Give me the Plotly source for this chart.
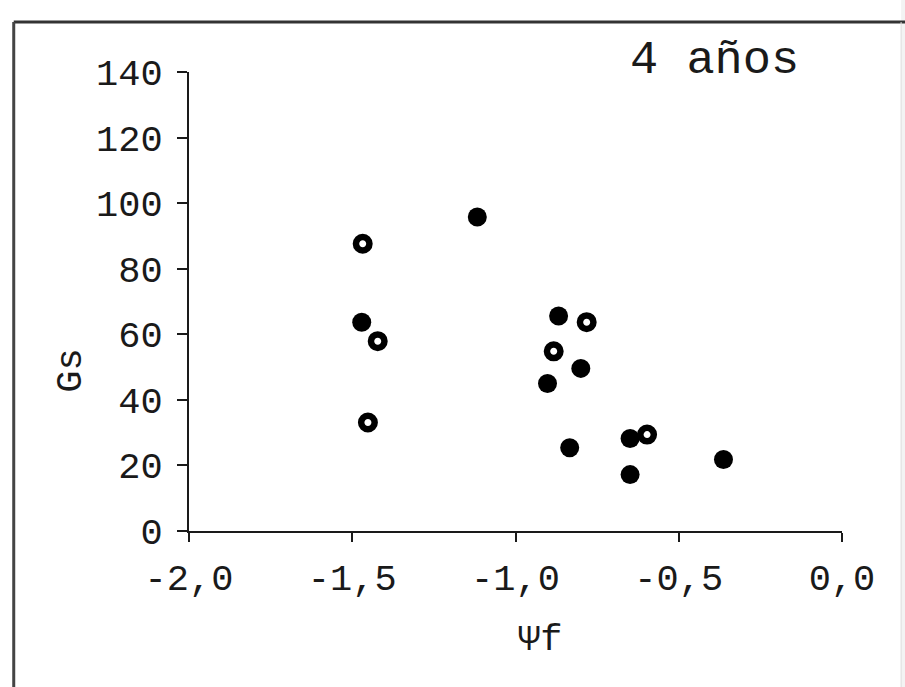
import plotly.graph_objects as go

# Data
filled_x = [-1.117, -1.471, -0.868, -0.902, -0.800, -0.834, -0.649, -0.649, -0.363]
filled_y = [95.8, 63.7, 65.6, 45.0, 49.6, 25.4, 28.2, 17.2, 21.8]
open_x = [-1.468, -1.422, -1.452, -0.782, -0.883, -0.597]
open_y = [87.6, 57.9, 33.1, 63.7, 54.8, 29.4]

x_tickvals = [-2.0, -1.5, -1.0, -0.5, 0.0]
x_ticktext = ["-2,0", "-1,5", "-1,0", "-0,5", "0,0"]
y_tickvals = [0, 20, 40, 60, 80, 100, 120, 140]
y_ticktext = ["0", "20", "40", "60", "80", "100", "120", "140"]

FONT = "Liberation Mono, Courier New, monospace"
INK = "#1a1a1a"

fig = go.Figure()
fig.add_trace(go.Scatter(
    x=filled_x, y=filled_y, mode="markers",
    marker=dict(symbol="circle", size=19, color="black", line=dict(width=0)),
    showlegend=False, cliponaxis=False))
fig.add_trace(go.Scatter(
    x=open_x, y=open_y, mode="markers",
    marker=dict(symbol="circle", size=13.5, color="white", line=dict(width=6.5, color="black")),
    showlegend=False, cliponaxis=False))

fig.update_layout(
    width=905, height=687,
    margin=dict(l=189, r=63, t=72, b=156, pad=0),
    paper_bgcolor="white", plot_bgcolor="white",
    font=dict(family=FONT, color=INK, size=38),
    xaxis=dict(range=[-2, 0], tickvals=x_tickvals, ticktext=x_ticktext,
               showgrid=False, zeroline=False, showline=True, linecolor=INK, linewidth=2,
               ticks="outside", ticklen=9, tickwidth=2, tickcolor=INK,
               tickfont=dict(family=FONT, size=37, color=INK), ticklabelstandoff=4),
    yaxis=dict(range=[0, 140], tickvals=y_tickvals, ticktext=y_ticktext,
               showgrid=False, zeroline=False, showline=True, linecolor=INK, linewidth=2,
               ticks="outside", ticklen=10, tickwidth=2, tickcolor=INK,
               tickfont=dict(family=FONT, size=37, color=INK), ticklabelstandoff=7),
    annotations=[
        dict(text="4 años", xref="paper", yref="paper", x=0.805, y=1.025,
             xanchor="center", yanchor="middle", showarrow=False,
             font=dict(family=FONT, size=47, color=INK)),
        dict(text="Ψf", xref="paper", yref="paper", x=0.538, y=-0.237,
             xanchor="center", yanchor="middle", showarrow=False,
             font=dict(family=FONT, size=37, color=INK)),
        dict(text="Gs", xref="paper", yref="paper", x=-0.18, y=0.35,
             xanchor="center", yanchor="middle", showarrow=False, textangle=-90,
             font=dict(family=FONT, size=37, color=INK)),
    ],
    shapes=[
        dict(type="rect", xref="paper", yref="paper", x0=1.0 + (901 - 842) / 652, x1=1.2,
             y0=-0.5, y1=1.2, line=dict(width=0), fillcolor="#f3f3f3", layer="below"),
        dict(type="line", xref="paper", yref="paper", x0=-175 / 652, x1=1.2,
             y0=1 + 50 / 459, y1=1 + 50 / 459, line=dict(color="#333333", width=3)),
        dict(type="line", xref="paper", yref="paper", x0=-175 / 652, x1=-175 / 652,
             y0=1 + 50 / 459, y1=-0.5, line=dict(color="#444444", width=3)),
        dict(type="line", xref="paper", yref="paper", x0=1 + (901 - 842) / 652, x1=1 + (901 - 842) / 652,
             y0=1 + 50 / 459, y1=-0.5, line=dict(color="#dddddd", width=1)),
    ],
)

fig.write_html("out.html", config={"displayModeBar": False},
               post_script="document.body.style.margin='0';")
